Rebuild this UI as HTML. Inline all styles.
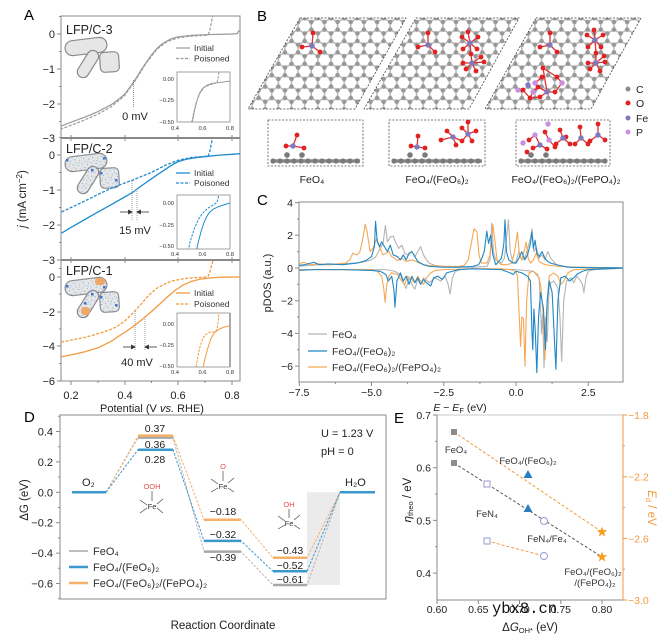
<!DOCTYPE html>
<html><head><meta charset="utf-8"><style>
html,body{margin:0;padding:0;background:#fff;}
svg{display:block;font-family:"Liberation Sans","DejaVu Sans",sans-serif;}
</style></head><body>
<svg width="671" height="636" viewBox="0 0 671 636" xmlns="http://www.w3.org/2000/svg">
<defs>
<clipPath id="cA1"><rect x="61" y="16" width="179" height="122"/></clipPath>
<clipPath id="cA2"><rect x="61" y="138" width="179" height="122"/></clipPath>
<clipPath id="cA3"><rect x="61" y="260" width="179" height="121"/></clipPath>
<clipPath id="cI1"><rect x="177" y="72" width="53" height="50"/></clipPath>
<clipPath id="cI2"><rect x="177" y="195" width="53" height="54"/></clipPath>
<clipPath id="cI3"><rect x="177" y="313" width="53" height="54"/></clipPath>
<clipPath id="cC"><rect x="299" y="202" width="324" height="180"/></clipPath>
<pattern id="lat" patternUnits="userSpaceOnUse" width="13.16" height="22.8" x="2" y="3">
<g stroke="#b8b8b8" stroke-width="1.5">
<path d="M6.58,3.8L0,7.6M6.58,3.8L13.16,7.6M0,7.6L0,15.2M13.16,7.6L13.16,15.2M0,15.2L6.58,19M13.16,15.2L6.58,19M6.58,19L6.58,22.8M6.58,0L6.58,3.8"/>
</g>
<g fill="#979797">
<circle cx="6.58" cy="3.8" r="2.3"/><circle cx="0" cy="7.6" r="2.3"/><circle cx="13.16" cy="7.6" r="2.3"/>
<circle cx="0" cy="15.2" r="2.3"/><circle cx="13.16" cy="15.2" r="2.3"/><circle cx="6.58" cy="19" r="2.3"/>
</g>
</pattern>
<pattern id="spk" patternUnits="userSpaceOnUse" width="9" height="9">
<g fill="#5a9ad8">
<circle cx="1" cy="2" r="0.55"/><circle cx="5" cy="1" r="0.5"/><circle cx="7.3" cy="5" r="0.55"/>
<circle cx="3" cy="6" r="0.5"/><circle cx="8" cy="8.2" r="0.45"/><circle cx="2" cy="8.5" r="0.5"/><circle cx="5.5" cy="3.8" r="0.4"/>
</g>
</pattern>
</defs>

<!-- ================= PANEL A ================= -->
<text x="24" y="20" font-size="15">A</text>
<g fill="none" stroke="#8a8a8a" stroke-width="1">
<rect x="61" y="16" width="179" height="122"/>
<rect x="61" y="138" width="179" height="122"/>
<rect x="61" y="260" width="179" height="121"/>
</g>
<line x1="61" y1="138" x2="240" y2="138" stroke="#8a8a8a" stroke-width="2"/>
<line x1="61" y1="260" x2="240" y2="260" stroke="#8a8a8a" stroke-width="2"/>
<g stroke="#8a8a8a" stroke-width="1">
<path d="M57,34H61M57,69H61M57,104H61M59,51.5H61M59,86.5H61M59,121.5H61M59,16.5H61"/>
<path d="M57,155H61M57,190H61M57,225H61M57,260H61M59,172.5H61M59,207.5H61M59,242.5H61M59,137.5H61"/>
<path d="M57,277H61M57,312H61M57,346H61M57,381H61M59,294H61M59,329H61M59,363.5H61M59,268.5H61"/>
<path d="M71,381V385M125,381V385M178,381V385M232,381V385M98,381V383M151.5,381V383M205,381V383"/>
<path d="M71,138V135M125,138V135M178,138V135M232,138V135M71,260V257M125,260V257M178,260V257M232,260V257"/>
<path d="M71,138V141M125,138V141M178,138V141M232,138V141M71,260V263M125,260V263M178,260V263M232,260V263"/>
</g>
<g font-size="11" fill="#222" text-anchor="end">
<text x="55" y="38">0</text><text x="55" y="73">−1</text><text x="55" y="108">−2</text><text x="55" y="142">−3</text>
<text x="55" y="159">0</text><text x="55" y="194">−1</text><text x="55" y="229">−2</text><text x="55" y="264">−3</text>
<text x="55" y="281">0</text><text x="55" y="316">−2</text><text x="55" y="350">−4</text><text x="55" y="385">−6</text>
</g>
<g font-size="11" fill="#222" text-anchor="middle">
<text x="71" y="399">0.2</text><text x="125" y="399">0.4</text><text x="178" y="399">0.6</text><text x="232" y="399">0.8</text>
<text x="152" y="412">Potential (V <tspan font-style="italic">vs.</tspan> RHE)</text>
</g>
<text transform="translate(26,199) rotate(-90)" font-size="11.5" text-anchor="middle" fill="#222"><tspan font-style="italic">j</tspan> (mA cm<tspan font-size="8" dy="-4">−2</tspan><tspan dy="4">)</tspan></text>

<g font-size="12.5" fill="#222">
<text x="66" y="34">LFP/C-3</text>
<text x="66" y="153">LFP/C-2</text>
<text x="66" y="275">LFP/C-1</text>
</g>

<g>
<g stroke="#8c8c8c" stroke-width="1.2" fill="#e6e6e6">
<rect x="-21" y="-7.5" width="42" height="15" rx="7.5" transform="translate(86,46.5) rotate(-7)"/>
<rect x="-15" y="-5.8" width="30" height="11.6" rx="5.8" transform="translate(88,64) rotate(-58)"/>
<rect x="-9.5" y="-10" width="19" height="20" rx="4.5" transform="translate(109.5,62) rotate(-4)"/>
</g>
</g>
<g transform="translate(0,116)">
<g stroke="#8c8c8c" stroke-width="1.2" fill="#e6e6e6">
<rect x="-21" y="-7.5" width="42" height="15" rx="7.5" transform="translate(86,46.5) rotate(-7)"/>
<rect x="-15" y="-5.8" width="30" height="11.6" rx="5.8" transform="translate(88,64) rotate(-58)"/>
<rect x="-9.5" y="-10" width="19" height="20" rx="4.5" transform="translate(109.5,62) rotate(-4)"/>
</g>
<g fill="url(#spk)">
<rect x="-21" y="-7.5" width="42" height="15" rx="7.5" transform="translate(86,46.5) rotate(-7)"/>
<rect x="-15" y="-5.8" width="30" height="11.6" rx="5.8" transform="translate(88,64) rotate(-58)"/>
<rect x="-9.5" y="-10" width="19" height="20" rx="4.5" transform="translate(109.5,62) rotate(-4)"/>
</g>
<g fill="#3a78d0"><rect x="66" y="43" width="2.5" height="2.5"/><rect x="103" y="41" width="2.5" height="2.5"/><rect x="91" y="53" width="2.5" height="2.5"/><rect x="100" y="56" width="2.5" height="2.5"/><rect x="115" y="63" width="2.5" height="2.5"/></g>
</g>
<g transform="translate(0,240)">
<g stroke="#8c8c8c" stroke-width="1.2" fill="#e6e6e6">
<rect x="-21" y="-7.5" width="42" height="15" rx="7.5" transform="translate(86,46.5) rotate(-7)"/>
<rect x="-15" y="-5.8" width="30" height="11.6" rx="5.8" transform="translate(88,64) rotate(-58)"/>
<rect x="-9.5" y="-10" width="19" height="20" rx="4.5" transform="translate(109.5,62) rotate(-4)"/>
</g>
<g fill="url(#spk)">
<rect x="-21" y="-7.5" width="42" height="15" rx="7.5" transform="translate(86,46.5) rotate(-7)"/>
<rect x="-15" y="-5.8" width="30" height="11.6" rx="5.8" transform="translate(88,64) rotate(-58)"/>
<rect x="-9.5" y="-10" width="19" height="20" rx="4.5" transform="translate(109.5,62) rotate(-4)"/>
</g>
<g fill="#f0a868"><rect x="95" y="38" width="10" height="7" rx="3"/><rect x="81" y="67" width="9" height="8" rx="3.5"/></g>
<g fill="#3a78d0"><rect x="66" y="45" width="2.5" height="2.5"/><rect x="103" y="46" width="2.5" height="2.5"/><rect x="91" y="53" width="2.5" height="2.5"/><rect x="100" y="56" width="2.5" height="2.5"/><rect x="115" y="64" width="2.5" height="2.5"/><rect x="84" y="62" width="2.5" height="2.5"/></g>
</g>

<g clip-path="url(#cA1)" fill="none" stroke="#9a9a9a" stroke-width="1.2">
<g transform="matrix(268,0,0,-35,17.4,34)">
<polyline vector-effect="non-scaling-stroke" points="0.16,-2.64 0.2,-2.52 0.25,-2.38 0.3,-2.22 0.35,-2.02 0.38,-1.85 0.4,-1.72 0.42,-1.52 0.44,-1.3 0.46,-1.05 0.48,-0.82 0.5,-0.6 0.52,-0.42 0.54,-0.28 0.56,-0.19 0.58,-0.12 0.6,-0.08 0.65,-0.04 0.7,-0.02 0.75,-0.01 0.8,0 0.82,0.01 0.825,0.08 0.835,0.12"/>
<polyline vector-effect="non-scaling-stroke" stroke-dasharray="3,1.5" points="0.16,-2.72 0.2,-2.61 0.25,-2.46 0.3,-2.29 0.35,-2.08 0.4,-1.76 0.44,-1.33 0.48,-0.84 0.52,-0.44 0.56,-0.21 0.6,-0.11 0.65,-0.06 0.7,-0.04 0.712,-0.02 0.718,0.1 0.723,0.3 0.73,0.6"/>
</g>
</g>
<line x1="133.4" y1="80" x2="133.4" y2="108" stroke="#777" stroke-width="0.8" stroke-dasharray="1,1"/>
<text x="135" y="120" font-size="11" text-anchor="middle" fill="#222">0 mV</text>
<line x1="176" y1="48" x2="190" y2="48" stroke="#9a9a9a" stroke-width="1.2"/>
<line x1="176" y1="58.5" x2="190" y2="58.5" stroke="#9a9a9a" stroke-width="1.2" stroke-dasharray="3,1.5"/>
<g font-size="8.5" fill="#333"><text x="194" y="51">Initial</text><text x="194" y="61.5">Poisoned</text></g>

<g clip-path="url(#cA2)" fill="none" stroke="#1f8bd0" stroke-width="1.3">
<g transform="matrix(268,0,0,-35,17.4,155)">
<polyline vector-effect="non-scaling-stroke" points="0.165,-2.23 0.2,-2.07 0.25,-1.85 0.3,-1.63 0.35,-1.42 0.4,-1.2 0.43,-1.07 0.45,-0.95 0.5,-0.68 0.55,-0.42 0.58,-0.27 0.6,-0.19 0.63,-0.12 0.67,-0.07 0.72,-0.03 0.76,0 0.8,0.02 0.835,0.04"/>
<polyline vector-effect="non-scaling-stroke" stroke-dasharray="3,1.5" points="0.165,-1.63 0.2,-1.5 0.25,-1.32 0.3,-1.13 0.35,-0.95 0.4,-0.8 0.43,-0.72 0.46,-0.62 0.5,-0.5 0.55,-0.3 0.6,-0.15 0.65,-0.07 0.7,-0.04 0.712,-0.02 0.718,0.1 0.723,0.3 0.73,0.55"/>
</g>
</g>
<g stroke="#888" stroke-width="0.8" stroke-dasharray="1,1">
<line x1="132" y1="181" x2="132" y2="221"/><line x1="137" y1="189" x2="137" y2="221"/>
</g>
<g stroke="#333" stroke-width="0.8" fill="#333">
<line x1="120" y1="212" x2="129" y2="212"/><path d="M132,212l-3.5,-1.8v3.6z"/>
<line x1="149" y1="212" x2="140" y2="212"/><path d="M137,212l3.5,-1.8v3.6z"/>
</g>
<text x="135" y="234" font-size="11" text-anchor="middle" fill="#222">15 mV</text>
<line x1="176" y1="173" x2="190" y2="173" stroke="#1f8bd0" stroke-width="1.3"/>
<line x1="176" y1="183" x2="190" y2="183" stroke="#1f8bd0" stroke-width="1.3" stroke-dasharray="3,1.5"/>
<g font-size="8.5" fill="#333"><text x="194" y="176">Initial</text><text x="194" y="186">Poisoned</text></g>

<g clip-path="url(#cA3)" fill="none" stroke="#f29a40" stroke-width="1.3">
<g transform="matrix(268,0,0,-17.3,17.4,277)">
<polyline vector-effect="non-scaling-stroke" points="0.163,-4.62 0.2,-4.5 0.25,-4.33 0.3,-4.1 0.35,-3.72 0.38,-3.4 0.41,-3.1 0.44,-2.77 0.47,-2.4 0.5,-2 0.53,-1.58 0.56,-1.15 0.59,-0.75 0.62,-0.45 0.65,-0.25 0.68,-0.13 0.72,-0.05 0.76,-0.01 0.835,0"/>
<polyline vector-effect="non-scaling-stroke" stroke-dasharray="3,1.5" points="0.163,-3.76 0.2,-3.65 0.25,-3.5 0.3,-3.28 0.34,-3.08 0.37,-2.88 0.4,-2.55 0.43,-2.1 0.46,-1.6 0.49,-1.05 0.52,-0.65 0.55,-0.4 0.58,-0.22 0.62,-0.1 0.66,-0.04 0.7,-0.01 0.712,0.05 0.718,0.3 0.725,0.7 0.733,1.1"/>
</g>
</g>
<g stroke="#888" stroke-width="0.8" stroke-dasharray="1,1">
<line x1="135" y1="311" x2="135" y2="351"/><line x1="145" y1="317" x2="145" y2="351"/>
</g>
<g stroke="#333" stroke-width="0.8" fill="#333">
<line x1="123" y1="347" x2="132" y2="347"/><path d="M135,347l-3.5,-1.8v3.6z"/>
<line x1="157" y1="347" x2="148" y2="347"/><path d="M145,347l3.5,-1.8v3.6z"/>
</g>
<text x="137" y="366" font-size="11" text-anchor="middle" fill="#222">40 mV</text>
<line x1="176" y1="293" x2="190" y2="293" stroke="#f29a40" stroke-width="1.3"/>
<line x1="176" y1="304" x2="190" y2="304" stroke="#f29a40" stroke-width="1.3" stroke-dasharray="3,1.5"/>
<g font-size="8.5" fill="#333"><text x="194" y="296">Initial</text><text x="194" y="307">Poisoned</text></g>

<g fill="#fff" stroke="#8a8a8a" stroke-width="0.8">
<rect x="177" y="72" width="53" height="50"/>
<rect x="177" y="195" width="53" height="54"/>
<rect x="177" y="313" width="53" height="54"/>
</g>
<line x1="230" y1="313" x2="230" y2="367" stroke="#aaa" stroke-width="2"/>
<g font-size="5.8" fill="#333" text-anchor="end">
<text x="174" y="81">0.00</text><text x="174" y="102">−0.25</text><text x="174" y="124">−0.50</text>
<text x="174" y="205">0.00</text><text x="174" y="227">−0.25</text><text x="174" y="248">−0.50</text>
<text x="174" y="326">0.00</text><text x="174" y="347">−0.25</text><text x="174" y="368">−0.50</text>
</g>
<g font-size="5.8" fill="#333" text-anchor="middle">
<text x="175" y="130">0.4</text><text x="202.5" y="130">0.6</text><text x="230" y="130">0.8</text>
<text x="175" y="256">0.4</text><text x="202.5" y="256">0.6</text><text x="230" y="256">0.8</text>
<text x="175" y="374">0.4</text><text x="202.5" y="374">0.6</text><text x="230" y="374">0.8</text>
</g>
<g clip-path="url(#cI1)" fill="none" stroke="#9a9a9a" stroke-width="1">
<g transform="matrix(137.5,0,0,-86,120,79)">
<polyline vector-effect="non-scaling-stroke" points="0.52,-0.55 0.54,-0.38 0.56,-0.25 0.58,-0.16 0.6,-0.11 0.63,-0.075 0.66,-0.055 0.7,-0.045 0.75,-0.035 0.8,-0.025"/>
<polyline vector-effect="non-scaling-stroke" stroke-dasharray="2.5,1.2" points="0.515,-0.55 0.535,-0.4 0.555,-0.27 0.58,-0.17 0.61,-0.1 0.65,-0.07 0.69,-0.05 0.705,-0.035 0.712,0 0.717,0.05 0.722,0.1"/>
</g></g>
<g clip-path="url(#cI2)" fill="none" stroke="#1f8bd0" stroke-width="1">
<g transform="matrix(137.5,0,0,-86,120,203)">
<polyline vector-effect="non-scaling-stroke" points="0.55,-0.6 0.57,-0.45 0.59,-0.33 0.61,-0.23 0.63,-0.16 0.65,-0.11 0.68,-0.07 0.72,-0.04 0.76,-0.02 0.8,0"/>
<polyline vector-effect="non-scaling-stroke" stroke-dasharray="2.5,1.2" points="0.49,-0.6 0.51,-0.45 0.54,-0.3 0.57,-0.19 0.6,-0.12 0.64,-0.06 0.68,-0.02 0.7,0 0.71,0.03 0.715,0.07 0.72,0.12"/>
</g></g>
<g clip-path="url(#cI3)" fill="none" stroke="#f29a40" stroke-width="1">
<g transform="matrix(137.5,0,0,-84,120,324)">
<polyline vector-effect="non-scaling-stroke" points="0.6,-0.55 0.62,-0.4 0.64,-0.28 0.66,-0.18 0.68,-0.12 0.71,-0.07 0.75,-0.04 0.8,-0.02"/>
<polyline vector-effect="non-scaling-stroke" stroke-dasharray="2.5,1.2" points="0.55,-0.55 0.565,-0.4 0.58,-0.28 0.6,-0.18 0.62,-0.13 0.65,-0.1 0.69,-0.09 0.705,-0.07 0.712,0 0.717,0.08 0.72,0.14"/>
</g></g>

<!-- ================= PANEL B ================= -->
<text x="257" y="21" font-size="15">B</text>
<g stroke="#444" stroke-width="0.8" stroke-dasharray="2,1.5">
<polygon points="300,18 406,18 355,109 248,109" fill="url(#lat)"/>
<polygon points="416,18 519,18 469,109 364,109" fill="url(#lat)"/>
<polygon points="536,18 641,18 591,109 485,109" fill="url(#lat)"/>
</g>
<g stroke-width="1.3">
<g stroke="#e03030"><path d="M312,46L313,33M312,46L302,47M312,46L320,52"/></g>
<g fill="#e02222"><circle cx="313" cy="33" r="2.4"/><circle cx="302" cy="47" r="2.4"/><circle cx="320" cy="52" r="2.4"/></g>
<circle cx="312" cy="46" r="2.7" fill="#8078c0"/>

<g stroke="#e03030"><path d="M428,45L428,33M428,45L418,47M428,45L435,52M470,43L462,37M470,43L478,37M470,43L468,32M470,43L463,49M470,43L477,49M470,43L471,54M472,63L463,63M472,63L484,62M472,63L471,54M472,63L476,71M472,63L466,69M472,63L481,57"/></g>
<g fill="#e02222"><circle cx="428" cy="33" r="2.4"/><circle cx="418" cy="47" r="2.4"/><circle cx="435" cy="52" r="2.4"/>
<circle cx="462" cy="37" r="2.4"/><circle cx="478" cy="37" r="2.4"/><circle cx="468" cy="32" r="2.4"/><circle cx="463" cy="49" r="2.4"/><circle cx="477" cy="49" r="2.4"/><circle cx="471" cy="54" r="2.4"/>
<circle cx="463" cy="63" r="2.4"/><circle cx="484" cy="62" r="2.4"/><circle cx="476" cy="71" r="2.4"/><circle cx="466" cy="69" r="2.4"/><circle cx="481" cy="57" r="2.4"/></g>
<g fill="#8078c0"><circle cx="428" cy="45" r="2.7"/><circle cx="470" cy="43" r="2.7"/><circle cx="472" cy="63" r="2.7"/></g>

<g stroke="#e03030"><path d="M550,45L550,33M550,45L540,47M550,45L557,52M595,40L587,35M595,40L603,35M595,40L594,30M595,40L588,47M595,40L601,47M595,40L596,53M596,63L588,63M596,63L605,62M596,63L596,53M596,63L600,71M596,63L590,69M596,63L604,56M547,92L543,68M547,92L555,92M547,92L540,97M535,83L542,77M535,83L538,87M562,83L557,77M562,83L555,92M518,90L523,90M533,92L530,98M533,92L538,87M547,92L538,87"/>
<path d="M540,97L530,98M523,90L530,98M543,68L557,77" /></g>
<g fill="#e02222"><circle cx="550" cy="33" r="2.4"/><circle cx="540" cy="47" r="2.4"/><circle cx="557" cy="52" r="2.4"/>
<circle cx="587" cy="35" r="2.4"/><circle cx="603" cy="35" r="2.4"/><circle cx="594" cy="30" r="2.4"/><circle cx="588" cy="47" r="2.4"/><circle cx="601" cy="47" r="2.4"/><circle cx="596" cy="53" r="2.4"/>
<circle cx="588" cy="63" r="2.4"/><circle cx="605" cy="62" r="2.4"/><circle cx="600" cy="71" r="2.4"/><circle cx="590" cy="69" r="2.4"/><circle cx="604" cy="56" r="2.4"/>
<circle cx="543" cy="68" r="2.4"/><circle cx="557" cy="77" r="2.4"/><circle cx="542" cy="77" r="2.4"/><circle cx="538" cy="87" r="2.4"/><circle cx="555" cy="92" r="2.4"/><circle cx="540" cy="97" r="2.4"/><circle cx="530" cy="98" r="2.4"/><circle cx="523" cy="90" r="2.4"/></g>
<g fill="#8078c0"><circle cx="550" cy="45" r="2.7"/><circle cx="595" cy="40" r="2.7"/><circle cx="596" cy="63" r="2.7"/><circle cx="547" cy="92" r="2.7"/><circle cx="528" cy="85" r="2.7"/></g>
<g fill="#c890e0"><circle cx="535" cy="83" r="2.7"/><circle cx="562" cy="83" r="2.7"/><circle cx="518" cy="90" r="2.7"/><circle cx="533" cy="92" r="2.7"/></g>
</g>
<g>
<circle cx="628" cy="89" r="2.5" fill="#8c8c8c"/><circle cx="628" cy="103" r="2.5" fill="#e02222"/><circle cx="628" cy="118" r="2.5" fill="#8078c0"/><circle cx="628" cy="132" r="2.5" fill="#c890e0"/>
<g font-size="10.5" fill="#222"><text x="636" y="93">C</text><text x="636" y="107">O</text><text x="636" y="122">Fe</text><text x="636" y="136">P</text></g>
</g>
<g fill="none" stroke="#555" stroke-width="0.8" stroke-dasharray="2,1.5">
<rect x="268" y="120" width="95" height="46"/>
<rect x="389" y="120" width="96" height="46"/>
<rect x="516" y="120" width="94" height="46"/>
</g>
<g stroke="#8a8a8a" stroke-width="3.5">
<line x1="271" y1="161" x2="360" y2="161"/><line x1="392" y1="161" x2="482" y2="161"/><line x1="519" y1="161" x2="607" y2="161"/>
</g>
<g fill="#7a7a7a">
<circle cx="273" cy="161" r="2.6"/><circle cx="280" cy="161" r="2.6"/><circle cx="287" cy="161" r="2.6"/><circle cx="294" cy="161" r="2.6"/><circle cx="301" cy="161" r="2.6"/><circle cx="308" cy="161" r="2.6"/><circle cx="315" cy="161" r="2.6"/><circle cx="322" cy="161" r="2.6"/><circle cx="329" cy="161" r="2.6"/><circle cx="336" cy="161" r="2.6"/><circle cx="343" cy="161" r="2.6"/><circle cx="350" cy="161" r="2.6"/><circle cx="357" cy="161" r="2.6"/>
<circle cx="394" cy="161" r="2.6"/><circle cx="401" cy="161" r="2.6"/><circle cx="408" cy="161" r="2.6"/><circle cx="415" cy="161" r="2.6"/><circle cx="422" cy="161" r="2.6"/><circle cx="429" cy="161" r="2.6"/><circle cx="436" cy="161" r="2.6"/><circle cx="443" cy="161" r="2.6"/><circle cx="450" cy="161" r="2.6"/><circle cx="457" cy="161" r="2.6"/><circle cx="464" cy="161" r="2.6"/><circle cx="471" cy="161" r="2.6"/><circle cx="478" cy="161" r="2.6"/>
<circle cx="521" cy="161" r="2.6"/><circle cx="528" cy="161" r="2.6"/><circle cx="535" cy="161" r="2.6"/><circle cx="542" cy="161" r="2.6"/><circle cx="549" cy="161" r="2.6"/><circle cx="556" cy="161" r="2.6"/><circle cx="563" cy="161" r="2.6"/><circle cx="570" cy="161" r="2.6"/><circle cx="577" cy="161" r="2.6"/><circle cx="584" cy="161" r="2.6"/><circle cx="591" cy="161" r="2.6"/><circle cx="598" cy="161" r="2.6"/><circle cx="605" cy="161" r="2.6"/>
<circle cx="287" cy="155" r="2.8"/><circle cx="302" cy="155" r="2.8"/><circle cx="410" cy="155" r="2.8"/><circle cx="425" cy="155" r="2.8"/><circle cx="531" cy="155" r="2.8"/><circle cx="546" cy="155" r="2.8"/>
</g>
<g stroke-width="1.3">
<g stroke="#e03030"><path d="M293,146L297,135M293,146L286,146M293,146L304,148M417,147L418,136M417,147L411,146M417,147L425,148M453,137L447,131M453,137L441,140M453,137L456,145M453,137L462,141M468,134L462,128M468,134L468,122M468,134L476,131M468,134L472,141M468,134L462,141"/>
<path d="M540,145L533,148M540,145L547,149M540,145L535,135M563,138L556,144M563,138L570,144M563,138L560,130M581,138L575,144M581,138L588,144M581,138L580,127M598,135L598,124M598,135L605,140M598,135L590,141M549,140L545,132M535,135L529,140M549,140L555,147"/></g>
<g fill="#e02222"><circle cx="297" cy="135" r="2.4"/><circle cx="286" cy="146" r="2.4"/><circle cx="304" cy="148" r="2.4"/>
<circle cx="418" cy="136" r="2.4"/><circle cx="411" cy="146" r="2.4"/><circle cx="425" cy="148" r="2.4"/>
<circle cx="447" cy="131" r="2.4"/><circle cx="441" cy="140" r="2.4"/><circle cx="456" cy="145" r="2.4"/><circle cx="462" cy="141" r="2.4"/><circle cx="462" cy="128" r="2.4"/><circle cx="468" cy="122" r="2.4"/><circle cx="476" cy="131" r="2.4"/><circle cx="472" cy="141" r="2.4"/>
<circle cx="533" cy="148" r="2.4"/><circle cx="547" cy="149" r="2.4"/><circle cx="556" cy="144" r="2.4"/><circle cx="570" cy="144" r="2.4"/><circle cx="560" cy="130" r="2.4"/><circle cx="575" cy="144" r="2.4"/><circle cx="588" cy="144" r="2.4"/><circle cx="580" cy="127" r="2.4"/><circle cx="598" cy="124" r="2.4"/><circle cx="605" cy="140" r="2.4"/><circle cx="590" cy="141" r="2.4"/><circle cx="545" cy="132" r="2.4"/><circle cx="529" cy="140" r="2.4"/><circle cx="555" cy="147" r="2.4"/><circle cx="566" cy="137" r="2.4"/><circle cx="527" cy="152" r="2.4"/></g>
<g fill="#8078c0"><circle cx="293" cy="146" r="2.7"/><circle cx="417" cy="147" r="2.7"/><circle cx="453" cy="137" r="2.7"/><circle cx="468" cy="134" r="2.7"/><circle cx="540" cy="145" r="2.7"/><circle cx="563" cy="138" r="2.7"/><circle cx="581" cy="138" r="2.7"/><circle cx="598" cy="135" r="2.7"/></g>
<g fill="#c890e0"><circle cx="535" cy="135" r="2.7"/><circle cx="549" cy="140" r="2.7"/><circle cx="548" cy="124" r="2.7"/><circle cx="523" cy="143" r="2.7"/></g>
</g>
<g font-size="10.5" fill="#222" text-anchor="middle">
<text x="312" y="183">FeO₄</text>
<text x="437" y="183">FeO₄/(FeO₆)₂</text>
<text x="566" y="183">FeO₄/(FeO₆)₂/(FePO₄)₂</text>
</g>

<!-- ================= PANEL C ================= -->
<text x="257" y="205" font-size="15">C</text>
<rect x="299" y="202" width="324" height="180" fill="none" stroke="#8a8a8a" stroke-width="1"/>
<g stroke="#8a8a8a" stroke-width="1">
<path d="M299.3,382V386M371.5,382V386M443.8,382V386M516,382V386M588.3,382V386M335.4,382V384M407.6,382V384M479.9,382V384M552.1,382V384"/>
<path d="M295,202.6H299M295,235.3H299M295,268H299M295,300.7H299M295,333.4H299M295,366.1H299M297,219H299M297,251.6H299M297,284.3H299M297,317H299M297,349.7H299"/>
</g>
<g font-size="10.5" fill="#222" text-anchor="end">
<text x="293" y="206.5">4</text><text x="293" y="239">2</text><text x="293" y="272">0</text><text x="293" y="304.5">−2</text><text x="293" y="337">−4</text><text x="293" y="370">−6</text>
</g>
<g font-size="10.5" fill="#222" text-anchor="middle">
<text x="299" y="396">−7.5</text><text x="371.5" y="396">−5.0</text><text x="443.8" y="396">−2.5</text><text x="516" y="396">0.0</text><text x="588.3" y="396">2.5</text>
<text x="460" y="411"><tspan font-style="italic">E</tspan> − <tspan font-style="italic">E</tspan><tspan font-size="7.5" dy="2">F</tspan><tspan dy="-2"> (eV)</tspan></text>
</g>
<text transform="translate(271,283) rotate(-90)" font-size="11" text-anchor="middle" fill="#222">pDOS (a.u.)</text>
<g clip-path="url(#cC)" fill="none" stroke-width="1.1" stroke-linejoin="round">
<g transform="matrix(28.9,0,0,-16.35,516,268)">
<polyline vector-effect="non-scaling-stroke" stroke="#b4b4b4" points="-7.6,0.1 -7.2,0.15 -6.8,0.2 -6.4,0.2 -6,0.25 -5.6,0.3 -5.3,0.35 -5,0.5 -4.85,0.7 -4.7,1.2 -4.6,1.5 -4.52,2.6 -4.45,1.6 -4.35,1.9 -4.25,1.95 -4.15,1.5 -4.05,1.2 -3.95,1.4 -3.85,0.9 -3.75,0.8 -3.6,1 -3.5,0.7 -3.4,1 -3.3,1.3 -3.2,0.8 -3.1,0.5 -3,0.3 -2.8,0.15 -2.5,0.1 -2,0.05 -1.5,0.05 -1,0.1 -0.9,0.5 -0.84,2.75 -0.78,1 -0.7,0.5 -0.5,0.3 -0.4,0.6 -0.3,2.3 -0.26,2.95 -0.2,1 -0.1,0.3 0,0.4 0.1,1 0.2,0.5 0.3,0.6 0.4,1.2 0.5,1.8 0.55,2.4 0.62,1 0.7,1.3 0.8,0.6 0.9,0.8 1,0.5 1.1,1 1.2,0.6 1.3,0.4 1.4,0.2 1.6,0.1 2,0.05 3,0.02 3.8,0"/>
<polyline vector-effect="non-scaling-stroke" stroke="#b4b4b4" points="-7.6,-0.1 -7,-0.1 -6,-0.1 -5,-0.1 -4.5,-0.1 -4.2,-0.2 -4,-0.4 -3.9,-0.9 -3.8,-1.25 -3.7,-0.6 -3.6,-1 -3.5,-1.3 -3.4,-0.7 -3.3,-1 -3.2,-0.6 -3,-0.9 -2.8,-0.6 -2.6,-0.8 -2.45,-0.5 -2.35,-1 -2.28,-1.6 -2.2,-0.6 -2.1,-0.2 -1.8,-0.05 -1,-0.05 0,-0.1 0.3,-0.15 0.6,-0.2 0.8,-0.6 0.85,-2.5 0.88,-4 0.92,-2.8 0.97,-6.1 1.02,-3 1.08,-4.5 1.15,-1 1.3,-0.8 1.45,-1.2 1.52,-3 1.58,-5.7 1.65,-2 1.75,-0.8 1.9,-0.6 2,-0.9 2.1,-0.5 2.2,-0.7 2.3,-1 2.35,-1.5 2.42,-0.6 2.5,-0.2 2.7,-0.1 3.8,0"/>
<polyline vector-effect="non-scaling-stroke" stroke="#f5a855" points="-7.6,0.2 -7.35,0.35 -7.1,0.2 -6.8,0.25 -6.5,0.2 -6.2,0.25 -5.9,0.3 -5.75,0.5 -5.65,0.9 -5.5,0.8 -5.4,1 -5.3,1.8 -5.22,2.67 -5.15,2.2 -5.05,1 -4.95,1.2 -4.82,1.8 -4.7,1.2 -4.6,0.8 -4.5,0.9 -4.4,1 -4.3,0.7 -4.2,0.6 -4.1,0.45 -3.95,0.6 -3.8,0.4 -3.6,0.5 -3.4,0.35 -3.2,0.2 -3,0.15 -2.5,0.1 -2,0.1 -1.8,0.15 -1.65,0.5 -1.55,1.5 -1.45,2.4 -1.35,2.2 -1.28,0.8 -1.2,0.3 -1,0.3 -0.9,0.8 -0.8,2.65 -0.72,1.5 -0.65,0.4 -0.5,0.2 -0.3,0.2 -0.15,0.3 -0.05,1 0.05,2.2 0.12,0.8 0.2,0.5 0.3,1.2 0.35,1.6 0.42,0.6 0.5,0.3 0.6,0.5 0.7,0.9 0.8,0.4 0.9,0.3 1,0.2 1.2,0.15 1.5,0.1 2,0.05 3,0.02 3.8,0"/>
<polyline vector-effect="non-scaling-stroke" stroke="#f5a855" points="-7.6,-0.1 -6,-0.1 -5,-0.1 -4.8,-0.2 -4.65,-0.5 -4.58,-1.2 -4.53,-2.1 -4.47,-1 -4.4,-0.5 -4.3,-0.3 -4.1,-0.4 -3.95,-0.8 -3.85,-1 -3.75,-0.5 -3.6,-0.7 -3.5,-0.9 -3.4,-0.5 -3.3,-0.8 -3.2,-1 -3.1,-0.6 -2.95,-0.3 -2.8,-0.15 -2.5,-0.1 -1.5,-0.05 -0.5,-0.05 -0.2,-0.1 0,-0.2 0.05,-0.5 0.1,-2.5 0.16,-4.8 0.2,-3 0.26,-3.1 0.31,-6 0.37,-2 0.45,-0.3 0.6,-0.2 0.75,-0.4 0.85,-1 0.95,-3 1,-5.6 1.06,-2.5 1.15,-0.5 1.3,-0.3 1.45,-0.5 1.55,-1 1.65,-0.8 1.8,-0.3 2,-0.1 3.8,0"/>
<polyline vector-effect="non-scaling-stroke" stroke="#1f87c5" points="-7.6,0.15 -7.3,0.2 -7,0.35 -6.8,0.2 -6.5,0.25 -6,0.2 -5.5,0.3 -5.2,0.45 -5,0.7 -4.95,1 -4.9,1.3 -4.86,2.85 -4.8,1.6 -4.72,1.3 -4.65,1.6 -4.55,1.3 -4.45,1 -4.35,1.4 -4.25,0.8 -4.1,0.7 -4,0.5 -3.9,0.8 -3.8,0.5 -3.7,0.9 -3.6,1 -3.5,0.7 -3.4,0.4 -3.2,0.2 -3,0.1 -2.5,0.05 -2,0.05 -1.5,0.1 -1.3,0.2 -1.2,0.5 -1.1,1 -1.01,2.25 -0.95,1.5 -0.88,2 -0.8,0.8 -0.7,0.2 -0.6,0.4 -0.5,0.6 -0.42,1.5 -0.38,2.95 -0.33,1 -0.25,0.5 -0.1,0.3 0,0.3 0.1,0.6 0.2,1 0.3,0.5 0.4,0.8 0.5,1.5 0.55,2.2 0.6,1.2 0.66,1.7 0.72,0.9 0.8,0.7 0.9,1 1,0.6 1.1,0.4 1.2,0.3 1.4,0.2 1.8,0.05 2.5,0.02 3.8,0"/>
<polyline vector-effect="non-scaling-stroke" stroke="#1f87c5" points="-7.6,-0.15 -7,-0.1 -6,-0.1 -5,-0.15 -4.7,-0.2 -4.5,-0.4 -4.42,-0.8 -4.3,-0.5 -4.22,-1.4 -4.19,-2.4 -4.12,-0.8 -4,-0.3 -3.9,-0.8 -3.8,-0.5 -3.7,-1 -3.6,-0.5 -3.5,-0.9 -3.4,-0.6 -3.3,-1 -3.2,-0.7 -3.1,-0.9 -2.95,-1.1 -2.85,-0.6 -2.7,-0.5 -2.55,-0.7 -2.4,-0.3 -2.2,-0.2 -2,-0.1 -1.5,-0.05 -0.5,-0.1 -0.2,-0.3 -0.1,-0.4 0,-0.2 0.2,-0.3 0.4,-0.5 0.5,-0.8 0.55,-3.8 0.58,-5 0.62,-2.5 0.67,-4 0.72,-6.4 0.78,-3 0.85,-1.5 0.95,-2.5 1.02,-5 1.08,-2 1.15,-0.8 1.25,-1.5 1.32,-4 1.38,-6.2 1.45,-2 1.55,-0.6 1.7,-0.5 1.85,-0.8 2,-0.6 2.1,-0.4 2.3,-0.2 2.5,-0.1 3.8,0"/>
</g>
</g>
<g stroke-width="1.3">
<line x1="308" y1="334" x2="327" y2="334" stroke="#b4b4b4"/>
<line x1="308" y1="351" x2="327" y2="351" stroke="#1f87c5"/>
<line x1="308" y1="367" x2="327" y2="367" stroke="#f5a855"/>
</g>
<g font-size="10.5" fill="#333">
<text x="332" y="338">FeO₄</text><text x="332" y="355">FeO₄/(FeO₆)₂</text><text x="332" y="371">FeO₄/(FeO₆)₂/(FePO₄)₂</text>
</g>

<!-- ================= PANEL D ================= -->
<text x="24" y="422" font-size="15">D</text>
<rect x="60" y="415" width="326" height="184" fill="none" stroke="#8a8a8a" stroke-width="1"/>
<rect x="307" y="492.3" width="33" height="92.7" fill="#ebebeb"/>
<g stroke="#8a8a8a" stroke-width="1">
<path d="M56,431.5H60M56,461.9H60M56,492.3H60M56,522.7H60M56,553.1H60M56,583.5H60M58,446.7H60M58,477.1H60M58,507.5H60M58,537.9H60M58,568.3H60M58,598.7H60M58,416.3H60"/>
</g>
<g font-size="11" fill="#222" text-anchor="end">
<text x="53" y="435.5">0.4</text><text x="53" y="466">0.2</text><text x="53" y="496.3">0.0</text><text x="53" y="526.7">−0.2</text><text x="53" y="557">−0.4</text><text x="53" y="587.5">−0.6</text>
</g>
<text transform="translate(28,500) rotate(-90)" font-size="11.5" text-anchor="middle" fill="#222">ΔG (eV)</text>
<text x="223" y="629" font-size="11.5" text-anchor="middle" fill="#222">Reaction Coordinate</text>
<g fill="none" stroke-width="1" stroke-dasharray="2.5,1.5">
<polyline stroke="#b4b4b4" points="106,492.3 138,437.6 173,437.6 204,551.6 241,551.6 273,585 307,585 340,492.3"/>
<polyline stroke="#f5b06a" points="106,492.3 138,436.1 173,436.1 204,519.7 241,519.7 273,557.7 307,557.7 340,492.3"/>
<polyline stroke="#3a98cf" points="106,492.3 138,449.7 173,449.7 204,540.9 241,540.9 273,571.3 307,571.3 340,492.3"/>
</g>
<g stroke-width="2.5">
<g stroke="#a8a8a8"><path d="M138,437.6H173M204,551.6H241M273,585H307"/></g>
<g stroke="#f5b06a"><path d="M138,435.6H173M204,519.7H241M273,557.7H307"/></g>
<g stroke="#3a98cf"><path d="M72,492.3H106M138,449.7H173M204,540.9H241M273,571.3H307M340,492.3H375"/></g>
</g>
<g font-size="10.5" fill="#222" text-anchor="middle">
<text x="155" y="432">0.37</text><text x="155" y="448">0.36</text><text x="155" y="463">0.28</text>
<text x="223" y="515">−0.18</text><text x="223" y="538">−0.32</text><text x="223" y="561">−0.39</text>
<text x="290" y="554">−0.43</text><text x="290" y="569">−0.52</text><text x="290" y="583">−0.61</text>
</g>
<g font-size="11" fill="#222">
<text x="82" y="486">O₂</text><text x="345" y="486">H₂O</text>
<text x="321" y="437">U = 1.23 V</text><text x="321" y="455">pH = 0</text>
</g>
<g stroke="#444" stroke-width="0.7" fill="none">
<path d="M152,491V501M140,500L147,505M163,499L157,504M140,513L147,508M163,513L157,508"/>
<path d="M223,471V481M211,479L218,484M234,478L228,483M211,492L218,488M234,492L228,488"/>
<path d="M289,509V518M278,516L285,521M300,515L294,520M278,529L285,525M300,529L294,525"/>
</g>
<g font-size="7.5" text-anchor="middle">
<text x="152" y="489" fill="#e85050">OOH</text><text x="152" y="509" fill="#333">Fe</text>
<text x="223" y="469" fill="#e85050">O</text><text x="223" y="489" fill="#333">Fe</text>
<text x="289" y="507" fill="#e85050">OH</text><text x="289" y="526" fill="#333">Fe</text>
</g>
<line x1="69" y1="551" x2="88" y2="551" stroke="#a8a8a8" stroke-width="1.5"/>
<line x1="69" y1="567" x2="88" y2="567" stroke="#3a98cf" stroke-width="2.5"/>
<line x1="69" y1="583" x2="88" y2="583" stroke="#f5b06a" stroke-width="2.5"/>
<g font-size="11" fill="#333">
<text x="93" y="555">FeO₄</text><text x="93" y="571">FeO₄/(FeO₆)₂</text><text x="93" y="587">FeO₄/(FeO₆)₂/(FePO₄)₂</text>
</g>

<!-- ================= PANEL E ================= -->
<text x="394" y="423" font-size="15">E</text>
<line x1="437" y1="415" x2="623" y2="415" stroke="#c8c8c8" stroke-width="1"/>
<line x1="437" y1="415" x2="437" y2="600" stroke="#8a8a8a" stroke-width="1"/>
<line x1="437" y1="600" x2="623" y2="600" stroke="#8a8a8a" stroke-width="1"/>
<line x1="623" y1="415" x2="623" y2="600" stroke="#f29a40" stroke-width="1"/>
<g stroke="#8a8a8a" stroke-width="1">
<path d="M433,415H437M433,467.7H437M433,520.4H437M433,573.1H437M435,441.3H437M435,494H437M435,546.7H437"/>
<path d="M437,600V604M478.3,600V604M519.5,600V604M560.8,600V604M602,600V604"/>
</g>
<g stroke="#f29a40" stroke-width="1">
<path d="M623,415H627M623,476.7H627M623,538.4H627M623,600H627M623,445.8H625M623,507.5H625M623,569.2H625"/>
</g>
<g font-size="10.5" fill="#222" text-anchor="end">
<text x="431" y="419">0.7</text><text x="431" y="471.7">0.6</text><text x="431" y="524.4">0.5</text><text x="431" y="577">0.4</text>
</g>
<g font-size="10.5" fill="#f29a40">
<text x="628" y="419">−1.8</text><text x="628" y="480.7">−2.2</text><text x="628" y="542.4">−2.6</text><text x="628" y="604">−3.0</text>
</g>
<g font-size="10.5" fill="#222" text-anchor="middle">
<text x="437" y="613">0.60</text><text x="478.3" y="613">0.65</text><text x="519.5" y="613">0.70</text><text x="560.8" y="613">0.75</text><text x="602" y="613">0.80</text>
</g>
<text x="530" y="631" font-size="11.5" text-anchor="middle" fill="#222">Δ<tspan font-style="italic">G</tspan><tspan font-size="7.5" dy="2">OH*</tspan><tspan dy="-2"> (eV)</tspan></text>
<text transform="translate(411,500) rotate(-90)" font-size="11.5" text-anchor="middle" fill="#222"><tspan font-style="italic">η</tspan><tspan font-size="7.5" dy="2">theo</tspan><tspan dy="-2"> / eV</tspan></text>
<text transform="translate(648,508) rotate(90)" font-size="11.5" text-anchor="middle" fill="#f29a40"><tspan font-style="italic">E</tspan><tspan font-size="7.5" dy="2">d</tspan><tspan dy="-2"> / eV</tspan></text>
<g fill="none" stroke-width="1" stroke-dasharray="3,2">
<line x1="454" y1="432" x2="602" y2="532" stroke="#f29a40"/>
<line x1="454" y1="463" x2="602" y2="557" stroke="#555"/>
<line x1="487" y1="541" x2="544" y2="556" stroke="#f29a40"/>
</g>
<g fill="#8c8c8c"><rect x="451" y="429" width="6" height="6"/><rect x="451" y="460" width="6" height="6"/></g>
<g fill="#2a7fc2"><polygon points="528,470 532.5,478 523.5,478"/><polygon points="528,504 532.5,512 523.5,512"/></g>
<g fill="#fff" stroke="#9a9ad2" stroke-width="1"><rect x="484" y="481" width="6" height="6"/><rect x="484" y="538" width="6" height="6"/>
<circle cx="544" cy="521" r="3.5"/><circle cx="544" cy="556" r="3.5"/></g>
<g fill="#f5a020">
<polygon transform="translate(602,532)" points="0,-5.5 1.35,-1.86 5.23,-1.7 2.19,0.71 3.23,4.45 0,2.3 -3.23,4.45 -2.19,0.71 -5.23,-1.7 -1.35,-1.86"/>
<polygon transform="translate(602,557)" points="0,-5.5 1.35,-1.86 5.23,-1.7 2.19,0.71 3.23,4.45 0,2.3 -3.23,4.45 -2.19,0.71 -5.23,-1.7 -1.35,-1.86"/>
</g>
<g font-size="9.5" fill="#333" text-anchor="middle">
<text x="456" y="453">FeO₄</text>
<text x="528" y="464">FeO₄/(FeO₆)₂</text>
<text x="487" y="517">FeN₄</text>
<text x="547" y="542">FeN₄/Fe₄</text>
<text x="593" y="575">FeO₄/(FeO₆)₂</text>
<text x="595" y="586">/(FePO₄)₂</text>
</g>
<text x="492" y="613" font-size="15.5" font-family="Liberation Mono, monospace" fill="#111">ybx8.cn</text>
</svg>
</body></html>
